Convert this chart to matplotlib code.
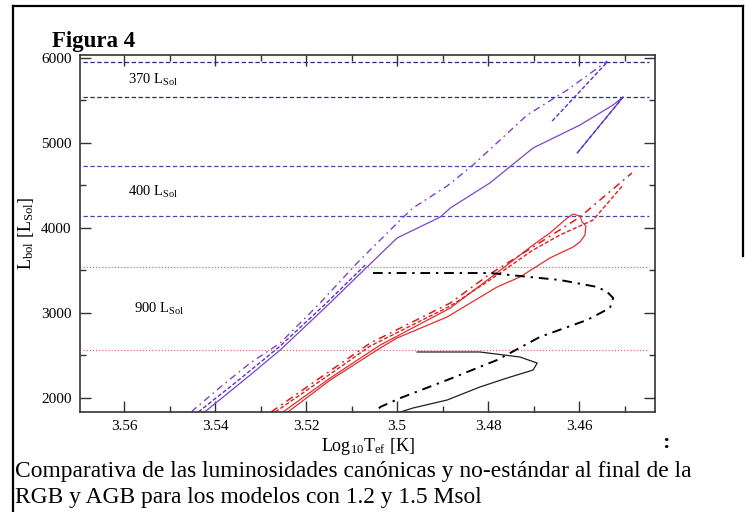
import numpy as np
import matplotlib
matplotlib.use('Agg')
import matplotlib.pyplot as plt
from matplotlib.ticker import MultipleLocator

plt.rcParams['font.family'] = ['Liberation Serif', 'DejaVu Serif']
plt.rcParams['mathtext.fontset'] = 'custom'
plt.rcParams['mathtext.rm'] = 'Liberation Serif'
plt.rcParams['mathtext.it'] = 'Liberation Serif:italic'

# purple group
purple_dd_x = [3.5452, 3.5448, 3.5385, 3.5323, 3.5257, 3.5170, 3.5088, 3.5015, 3.4993, 3.4965, 3.4890, 3.4833, 3.4714, 3.4626, 3.4538]
purple_dd_y = [1830, 1855, 2140, 2408, 2643, 3110, 3585, 3973, 4091, 4232, 4491, 4738, 5326, 5620, 5961]
purple_solid_x = [3.5426, 3.5375, 3.5323, 3.5257, 3.5160, 3.5066, 3.5000, 3.4905, 3.4883, 3.4796, 3.4701, 3.4598, 3.4525, 3.4503, 3.4604]
purple_solid_y = [1820, 2040, 2267, 2561, 3050, 3538, 3879, 4126, 4232, 4526, 4938, 5208, 5444, 5538, 4879]
purple_dash_x = [3.5437, 3.5350, 3.5257, 3.5160, 3.5070, np.nan, 3.4659, 3.4538, np.nan, 3.4604, 3.4503]
purple_dash_y = [1832, 2200, 2608, 3090, 3561, np.nan, 5255, 5949, np.nan, 4879, 5538]

# red group
red_dd_x = [3.5277, 3.5165, 3.5059, 3.4883, 3.4796, 3.4670, 3.4598, 3.4484]
red_dd_y = [1832, 2250, 2643, 3114, 3455, 3879, 4126, 4643]
red_dash_x = [3.5268, 3.5160, 3.5059, 3.4883, 3.4796, 3.4701, 3.4642, 3.4569, 3.4503]
red_dash_y = [1832, 2230, 2608, 3079, 3385, 3738, 3914, 4091, 4503]
red_solid_x = [3.5251, 3.5147, 3.5037, 3.4883, 3.4758, 3.4701, 3.4664, 3.4626, 3.4613, 3.4598,
               3.4593, 3.4585, 3.4587, 3.4598, 3.4613, 3.4664, 3.4730, 3.4780, 3.4890, 3.5000,
               3.5037, 3.5147, 3.5240]
red_solid_y = [1832, 2232, 2620, 3055, 3561, 3797, 3938, 4114, 4161, 4138,
               4067, 4020, 3914, 3832, 3773, 3644, 3420, 3303, 2950, 2703,
               2585, 2208, 1832]

# black group
black_dd_x = [3.5053, 3.4796, 3.4642, 3.4560, 3.4538, 3.4525, 3.4532, 3.4582, 3.4686, 3.4780, 3.4890, 3.4993, 3.5037, 3.5048]
black_dd_y = [3467, 3467, 3385, 3303, 3244, 3173, 3056, 2915, 2715, 2444, 2208, 1996, 1891, 1832]
black_solid_x = [3.4956, 3.4818, 3.4730, 3.4692, 3.4701, 3.4758, 3.4818, 3.4890, 3.4965, 3.5000]
black_solid_y = [2538, 2538, 2479, 2408, 2326, 2232, 2126, 1973, 1879, 1820]

# reference luminosities
blue_levels = [5953, 5541]
violet_levels = [4729, 4138]
red_levels = [3538, 2558]
level_labels = ['370 L$_{\\mathrm{Sol}}$', '400 L$_{\\mathrm{Sol}}$', '900 L$_{\\mathrm{Sol}}$']
level_label_y = [5738, 4420, 3040]
level_label_x = [3.5591, 3.5591, 3.5578]

fig = plt.figure(figsize=(7.45, 5.12), dpi=100)
ax = fig.add_axes([0.1074, 0.1953, 0.7718, 0.6973])

for y in blue_levels:
    ax.axhline(y, xmin=0.005, xmax=0.99, color='#2b2b80', lw=0.9, ls=(0, (3.5, 2)))
for y in violet_levels:
    ax.axhline(y, xmin=0.005, xmax=0.99, color='#4848a8', lw=0.9, ls=(0, (3.5, 2)))
for y in red_levels:
    ax.axhline(y, xmin=0.005, xmax=0.99, color='#e07070', lw=0.9, ls=(0, (1, 1.5)))

ax.plot(purple_solid_x, purple_solid_y, color='#7a45c8', lw=0.9)
ax.plot(purple_dd_x, purple_dd_y, color='#8040d0', lw=1.0, ls=(0, (5, 3, 1.2, 3)))
ax.plot(purple_dash_x, purple_dash_y, color='#5a30d0', lw=1.0, ls=(0, (3, 1.5)))

ax.plot(red_solid_x, red_solid_y, color='#e03030', lw=0.9)
ax.plot(red_dd_x, red_dd_y, color='#e01818', lw=1.1, ls=(0, (5, 3, 1.2, 3)))
ax.plot(red_dash_x, red_dash_y, color='#e02020', lw=1.0, ls=(0, (3, 1.5)))

ax.plot(black_solid_x, black_solid_y, color='#202020', lw=0.9)
ax.plot(black_dd_x, black_dd_y, color='black', lw=1.4, ls=(0, (5, 3, 1.2, 3)))

for t, lx, ly in zip(level_labels, level_label_x, level_label_y):
    ax.text(lx, ly, t, fontsize=10.5, va='center', ha='left')

ax.set_xlim(3.5697, 3.4433)
ax.set_ylim(1832, 6032)
ax.xaxis.set_major_locator(MultipleLocator(0.02))
ax.xaxis.set_minor_locator(MultipleLocator(0.01))
ax.yaxis.set_major_locator(MultipleLocator(1000))
ax.yaxis.set_minor_locator(MultipleLocator(500))
ax.set_xticks([3.56, 3.54, 3.52, 3.5, 3.48, 3.46])
ax.set_xticklabels(['3.56', '3.54', '3.52', '3.5', '3.48', '3.46'])
ax.tick_params(which='both', direction='in', top=True, right=True, labelsize=11, pad=6, color='#333333')
ax.tick_params(which='major', length=8, width=1)
ax.tick_params(which='minor', length=4.5, width=1)
for s in ax.spines.values():
    s.set_linewidth(1.2)
    s.set_color('#333333')

ax.set_xlabel('Log$_{10}$T$_{\\mathrm{ef}}$ [K]', fontsize=13, labelpad=2)
ax.set_ylabel('L$_{\\mathrm{bol}}$ [L$_{\\mathrm{Sol}}$]', fontsize=13, labelpad=4)

fig.text(0.0698, 0.908, 'Figura 4', fontsize=16.5, fontweight='bold', va='baseline')
fig.text(0.889, 0.135, ':', fontsize=16, fontweight='bold', va='center')
fig.text(0.020, 0.080, 'Comparativa de las luminosidades canónicas y no-estándar al final de la',
         fontsize=16.9, va='center')
fig.text(0.020, 0.029, 'RGB y AGB para los modelos con 1.2 y 1.5 Msol', fontsize=16.9, va='center')

# frame around the figure block
fig.add_artist(plt.Line2D([0.0174, 0.0174], [0.0, 0.988], color='black', lw=1.6))
fig.add_artist(plt.Line2D([0.0174, 0.997], [0.988, 0.988], color='black', lw=1.6))
fig.add_artist(plt.Line2D([0.997, 0.997], [0.988, 0.5], color='black', lw=1.6))

fig.savefig('out.png', dpi=100)
